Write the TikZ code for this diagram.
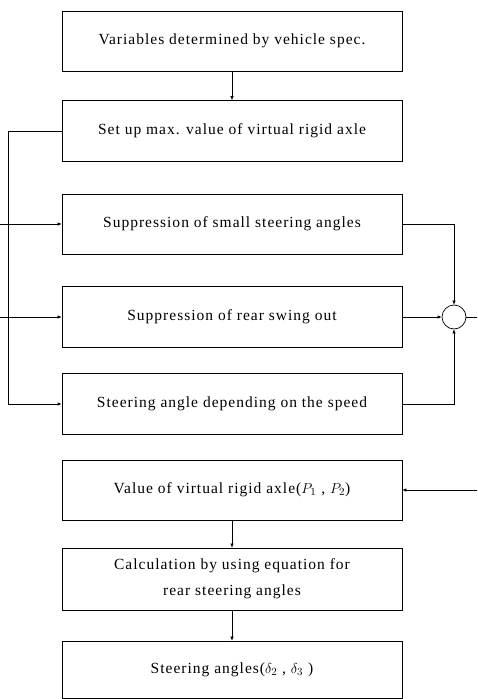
\documentclass[tikz,border=0pt]{standalone}
\usepackage{fontspec}
\setmainfont{Liberation Serif}[LetterSpace=6.5]
\usetikzlibrary{arrows.meta}
\tikzset{
  blk/.style={draw, line width=0.7pt, minimum width=340pt, align=center, font=\fontsize{15.5}{26}\selectfont, inner sep=0pt},
  sumpt/.style={draw, line width=0.7pt, circle, minimum size=24pt, inner sep=0pt},
  flow/.style={-{Latex[length=4pt,width=3.5pt]}, line width=0.6pt},
}
\begin{document}
\begin{tikzpicture}[x=1pt, y=-1pt]
\useasboundingbox (0,0) rectangle (477,699);
\node[blk, minimum height=60pt] (B_spec) at (232,41) {Variables determined by vehicle spec.};
\node[blk, minimum height=61pt] (B_max) at (232,131) {Set up max. value of virtual rigid axle};
\draw[flow] (B_spec) -- (B_max);
\node[blk, minimum height=60pt] (B_small) at (232,224) {Suppression of small steering angles};
\node[blk, minimum height=61pt] (B_swing) at (232,317) {Suppression of rear swing out};
\node[blk, minimum height=61pt] (B_speed) at (232,404) {Steering angle depending on the speed};
\node[sumpt] (S) at (454,317) {};
% left feed lines
\coordinate (L_max) at (8,131);
\coordinate (L_small) at (0,224);
\coordinate (L_swing) at (0,317);
\draw[line width=0.6pt] (B_max.west) -- (L_max) -- (8,404);
\draw[flow] (L_small) -- (B_small.west);
\draw[flow] (L_swing) -- (B_swing.west);
\draw[flow, line width=1pt] (8,404) -- (B_speed.west);
% summing junction
\draw[flow] (B_small.east) -| (S.north);
\draw[flow, line width=1pt] (B_swing.east) -- (S.west);
\draw[flow] (B_speed.east) -| (S.south);
\coordinate (R_out) at (477,317);
\draw[line width=0.8pt] (S.east) -- (R_out);
% lower chain
\node[blk, minimum height=60pt] (B_axle) at (232,490) {Value of virtual rigid axle($P_1$ , $P_2$)};
\node[blk, minimum height=62pt] (B_calc) at (232,579) {Calculation by using equation for\\ rear steering angles};
\node[blk, minimum height=57pt] (B_angle) at (232,669.5) {Steering angles($\delta_2$ , $\delta_3$ )};
\coordinate (R_in) at (477,490);
\draw[flow] (R_in) -- (B_axle.east);
\draw[flow] (B_axle) -- (B_calc);
\draw[flow] (B_calc) -- (B_angle);
\end{tikzpicture}
\end{document}
